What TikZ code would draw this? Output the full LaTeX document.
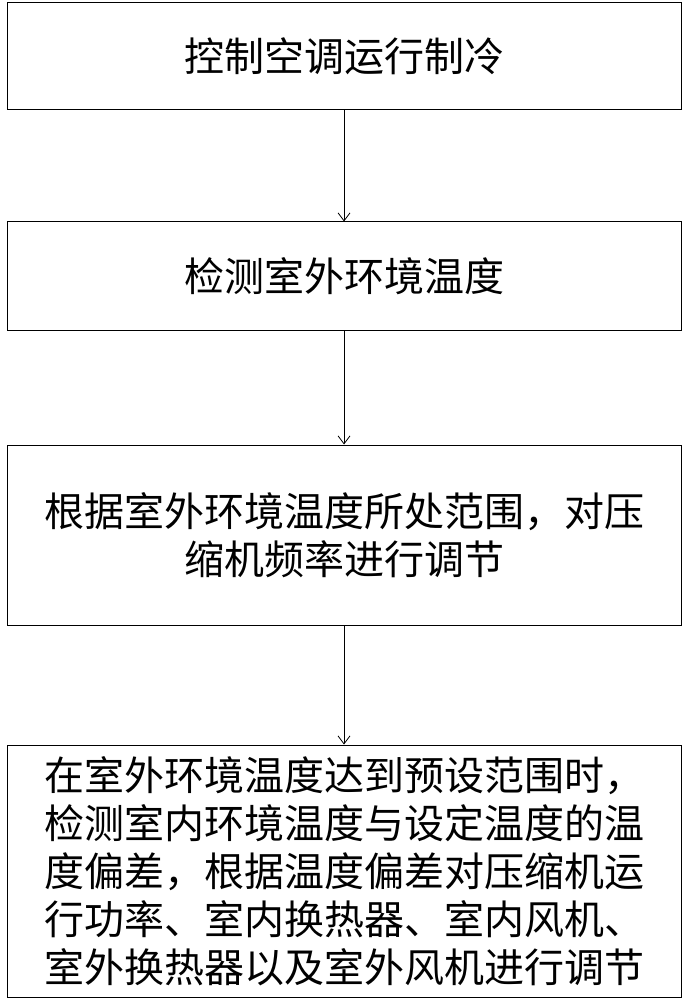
\documentclass[tikz,border=0pt]{standalone}
\usepackage{fontspec}
\setmainfont{Noto Sans CJK SC}
\usetikzlibrary{arrows.meta}
\begin{document}
\begin{tikzpicture}[x=1pt,y=-1pt,
  box/.style={draw,line width=1pt,minimum width=674pt,inner sep=0pt,font=\fontsize{40}{48}\selectfont},
  arr/.style={-{Straight Barb[length=8pt,width=12pt]},line width=0.8pt}]
\useasboundingbox (0,0) rectangle (689,1000);
\node[box,minimum height=107pt] (a) at (344,56.5) {控制空调运行制冷};
\node[box,minimum height=108pt] (b) at (344,276) {检测室外环境温度};
\node[box,minimum height=180pt,align=center] (c) at (344,535) {根据室外环境温度所处范围，对压\\缩机频率进行调节};
\node[box,minimum height=252pt,align=left] (d) at (344,871) {在室外环境温度达到预设范围时，\\检测室内环境温度与设定温度的温\\度偏差，根据温度偏差对压缩机运\\行功率、室内换热器、室内风机、\\室外换热器以及室外风机进行调节};
\draw[arr] (a) -- (b);
\draw[arr] (b) -- (c);
\draw[arr] (c) -- (d);
\end{tikzpicture}
\end{document}
